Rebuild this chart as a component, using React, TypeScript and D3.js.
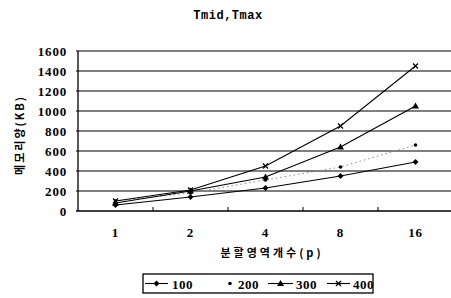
import React from "react";
import * as d3 from "d3";

const categories = ["1", "2", "4", "8", "16"];
const yTicks = [0, 200, 400, 600, 800, 1000, 1200, 1400, 1600];
const s100 = [60, 140, 230, 350, 490];
const s200 = [100, 180, 310, 440, 660];
const s300 = [80, 200, 340, 640, 1050];
const s400 = [100, 210, 450, 850, 1450];
const seriesNames = ["100", "200", "300", "400"];

const W = 451, H = 298;
const left = 78, right = 453, top = 51, bottom = 211;

export default function App() {
  const x = d3.scaleBand().domain(categories).range([left, right]);
  const y = d3.scaleLinear().domain([0, 1600]).range([bottom, top]);
  const cx = (c: string) => (x(c) as number) + x.bandwidth() / 2;
  const line = d3.line<number>().x((_, i) => cx(categories[i])).y((d) => y(d));
  const series = [s100, s200, s300, s400];
  const numFont = "'Liberation Serif', serif";
  const korFont = "'Noto Sans CJK KR', sans-serif";

  const marker = (k: number, px: number, py: number, key: string) => {
    if (k === 0)
      return <path key={key} d={`M${px},${py - 3}L${px + 3},${py}L${px},${py + 3}L${px - 3},${py}Z`} fill="#000" />;
    if (k === 1) return <circle key={key} cx={px} cy={py} r={1.8} fill="#000" />;
    if (k === 2)
      return <path key={key} d={`M${px},${py - 3.5}L${px + 3.5},${py + 2.5}L${px - 3.5},${py + 2.5}Z`} fill="#000" />;
    return (
      <path key={key} d={`M${px - 2.5},${py - 2.5}L${px + 2.5},${py + 2.5}M${px + 2.5},${py - 2.5}L${px - 2.5},${py + 2.5}`} stroke="#000" strokeWidth={1.3} />
    );
  };

  const legendItems = [
    { lx1: 145, lx2: 168, tx: 172 },
    { lx1: 230, lx2: 230, tx: 238 },
    { lx1: 268, lx2: 293, tx: 296 },
    { lx1: 327, lx2: 350, tx: 353 },
  ];

  return (
    <svg width={W} height={H} style={{ position: "absolute", left: 0, top: 0, background: "#fff" }}>
      <rect width={W} height={H} fill="#fff" />
      <text x={228} y={19} textAnchor="middle" fontFamily="'Liberation Mono', monospace" fontWeight="bold" fontSize={12} letterSpacing={0.5}>
        Tmid,Tmax
      </text>
      {yTicks.map((t) => (
        <g key={t}>
          <line x1={left - 2} x2={right} y1={y(t)} y2={y(t)} stroke="#000" strokeWidth={t === 0 ? 1.3 : 1.1} />
          <text x={67} y={y(t) + 4.5} textAnchor="end" fontFamily={numFont} fontWeight="bold" fontSize={13} letterSpacing={0.8}>
            {t}
          </text>
        </g>
      ))}
      <line x1={left} x2={left} y1={top} y2={bottom} stroke="#000" strokeWidth={1.3} />
      {categories.slice(1).map((c) => (
        <line key={c} x1={x(c) as number} x2={x(c) as number} y1={bottom} y2={bottom - 4} stroke="#000" strokeWidth={1} />
      ))}
      {categories.map((c) => (
        <text key={c} x={cx(c)} y={237} textAnchor="middle" fontFamily={numFont} fontWeight="bold" fontSize={13} letterSpacing={0.8}>
          {c}
        </text>
      ))}
      {series.map((s, k) => (
        <path
          key={k}
          d={line(s) as string}
          fill="none"
          stroke={k === 1 ? "#888" : "#000"}
          strokeWidth={k === 1 ? 1 : 1.1}
          strokeDasharray={k === 1 ? "1.5,3" : undefined}
        />
      ))}
      {series.map((s, k) => s.map((v, i) => marker(k, cx(categories[i]), y(v), `${k}-${i}`)))}
      <text
        transform="translate(24,135) rotate(-90)"
        textAnchor="middle"
        fontFamily={korFont}
        fontWeight="bold"
        fontSize={11}
        letterSpacing={2}
      >
        메모리양(KB)
      </text>
      <text x={272} y={257} textAnchor="middle" fontFamily={korFont} fontWeight="bold" fontSize={11} letterSpacing={3}>
        분할영역개수(p)
      </text>
      <rect x={143} y={274} width={230} height={19} fill="none" stroke="#000" strokeWidth={1.3} />
      {legendItems.map((it, k) => (
        <g key={k}>
          {k !== 1 && <line x1={it.lx1} x2={it.lx2} y1={283.5} y2={283.5} stroke="#000" strokeWidth={1.1} />}
          {marker(k, (it.lx1 + it.lx2) / 2, 283.5, `l${k}`)}
          <text x={it.tx} y={288.5} fontFamily={numFont} fontWeight="bold" fontSize={13} letterSpacing={0.5}>
            {seriesNames[k]}
          </text>
        </g>
      ))}
    </svg>
  );
}
